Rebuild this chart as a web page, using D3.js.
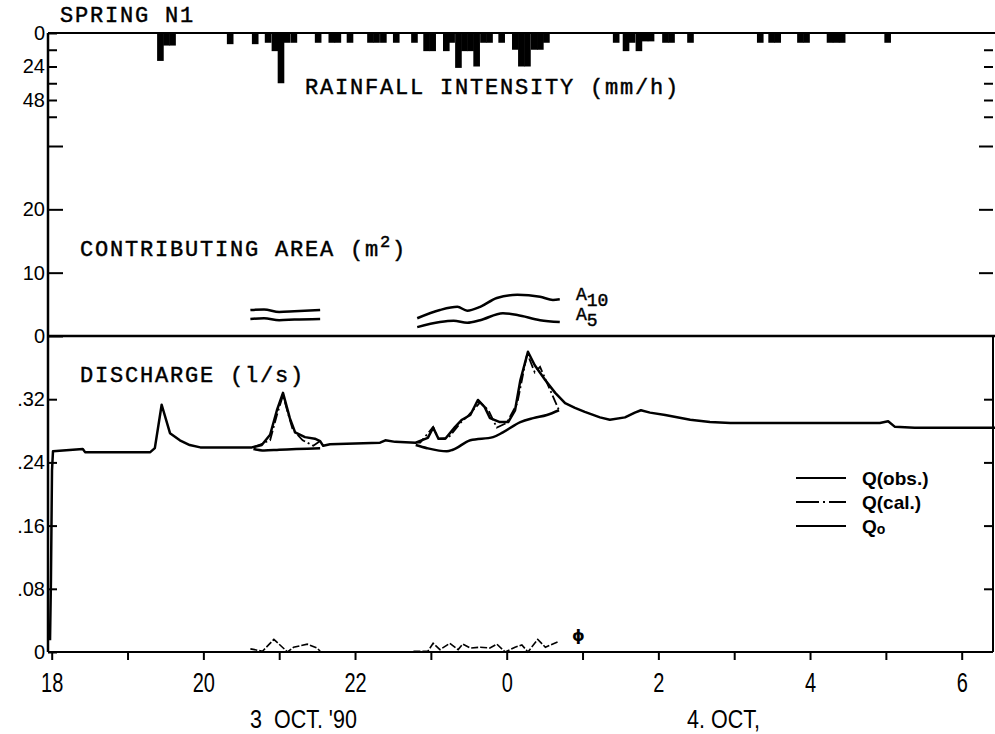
<!DOCTYPE html>
<html>
<head>
<meta charset="utf-8">
<script src="https://cdn.jsdelivr.net/npm/d3@7"></script>
<style>
  body { margin: 0; background: #fff; }
  svg text { fill: #000; }
  .mono { font-family: "Liberation Mono", "Courier New", monospace; stroke: #000; stroke-width: 0.45; }
  .num { font-family: "Liberation Sans", Arial, sans-serif; }
  .axis path, .axis line { stroke: #000; stroke-width: 2; }
</style>
</head>
<body>
<svg id="svg" width="995" height="734"></svg>
<script>
"use strict";

// hour axis (18 = 18h of 3 Oct, 24 = 0h of 4 Oct)
const hourTicks = [18, 19, 20, 21, 22, 23, 24, 25, 26, 27, 28, 29, 30];
const hourLabels = ["18", "", "20", "", "22", "", "0", "", "2", "", "4", "", "6"];
const rainTicks = [0, 12, 24, 36, 48, 60];
const rainLabels = ["0", "", "24", "", "48", ""];
const areaTicks = [0, 10, 20, 30];
const areaLabels = ["0", "10", "20", ""];
const qTicks = [0, 0.08, 0.16, 0.24, 0.32];
const qLabels = ["0", ".08", ".16", ".24", ".32"];

// rainfall, 5-minute bins: start hour, intensity mm/h
const rainHour = [19.39, 19.47, 19.55, 20.31, 20.64, 20.81, 20.90, 20.98, 21.06, 21.15,
  21.47, 21.65, 21.73, 21.89, 22.16, 22.24, 22.33, 22.50, 22.74, 22.90, 22.98,
  23.16, 23.23, 23.32, 23.40, 23.48, 23.56, 23.65, 23.73, 23.89, 24.07, 24.15,
  24.23, 24.32, 24.40, 24.48, 25.40, 25.53, 25.61, 25.70, 25.78, 25.86, 26.05,
  26.13, 26.38, 27.30, 27.45, 27.53, 27.83, 27.91, 28.22, 28.30, 28.38, 28.98];
const rainMm = [20, 9, 9, 8, 8, 7, 13, 36, 7, 7,
  7, 7, 7, 7, 7, 7, 7, 7, 7, 13, 13,
  13, 7, 25, 13, 13, 24, 7, 7, 7, 12, 24,
  24, 12, 12, 7, 7, 13, 7, 13, 6, 6, 7,
  7, 7, 7, 7, 7, 7, 7, 7, 7, 7, 7];

// contributing area (m2)
const a10Event1 = [[20.62, 4.1], [20.8, 4.2], [21.0, 3.8], [21.2, 3.9], [21.54, 4.1]];
const a5Event1 = [[20.62, 2.7], [20.8, 2.8], [21.0, 2.5], [21.2, 2.6], [21.54, 2.7]];
const a10Event2 = [[22.82, 2.8], [23.12, 4.1], [23.35, 4.6], [23.48, 4.0], [23.65, 4.6],
  [23.87, 6.0], [24.14, 6.5], [24.44, 6.2], [24.61, 5.7], [24.70, 5.8]];
const a5Event2 = [[22.82, 1.4], [23.12, 2.2], [23.30, 2.4], [23.48, 2.1], [23.65, 2.5],
  [23.95, 3.6], [24.14, 3.3], [24.44, 2.5], [24.70, 2.2]];

// discharge (l/s)
const qObs = [[17.978, 0.015], [17.99, 0.091], [18.004, 0.23], [18.017, 0.254], [18.41, 0.257],
  [18.44, 0.253], [19.30, 0.253], [19.36, 0.258], [19.45, 0.313], [19.56, 0.277],
  [19.69, 0.268], [19.82, 0.262], [19.96, 0.259], [20.64, 0.259], [20.77, 0.262],
  [20.88, 0.275], [20.97, 0.306], [21.05, 0.328], [21.14, 0.296], [21.21, 0.278],
  [21.34, 0.272], [21.47, 0.270], [21.54, 0.267], [21.58, 0.261], [21.67, 0.263],
  [22.33, 0.265], [22.40, 0.268], [22.53, 0.266], [22.80, 0.265], [22.96, 0.271],
  [23.03, 0.284], [23.10, 0.270], [23.19, 0.270], [23.32, 0.285], [23.41, 0.294],
  [23.52, 0.300], [23.62, 0.319], [23.71, 0.310], [23.78, 0.296], [23.91, 0.291],
  [24.02, 0.291], [24.11, 0.306], [24.18, 0.344], [24.28, 0.380], [24.37, 0.363],
  [24.51, 0.344], [24.64, 0.328], [24.77, 0.315], [24.90, 0.309], [25.03, 0.304],
  [25.23, 0.297], [25.36, 0.294], [25.56, 0.297], [25.69, 0.303], [25.77, 0.306],
  [25.89, 0.303], [26.09, 0.300], [26.42, 0.294], [26.68, 0.291], [26.95, 0.290],
  [28.92, 0.290], [29.03, 0.292], [29.12, 0.285], [29.38, 0.284], [30.45, 0.284]];
const qCalEvent1 = [[20.66, 0.259], [20.88, 0.268], [20.97, 0.300], [21.05, 0.325], [21.14, 0.294],
  [21.18, 0.281], [21.31, 0.268], [21.45, 0.261], [21.54, 0.267]];
const q0Event1 = [[20.66, 0.257], [20.80, 0.255], [21.00, 0.256], [21.54, 0.258]];
const qCalEvent2 = [[22.80, 0.265], [22.86, 0.265], [23.03, 0.285], [23.10, 0.270], [23.23, 0.271],
  [23.39, 0.290], [23.49, 0.299], [23.65, 0.316], [23.76, 0.306], [23.87, 0.284],
  [24.00, 0.290], [24.14, 0.315], [24.27, 0.378], [24.37, 0.354], [24.44, 0.361],
  [24.53, 0.341], [24.69, 0.306]];
const q0Event2 = [[22.80, 0.262], [22.95, 0.258], [23.21, 0.254], [23.29, 0.256], [23.52, 0.268],
  [23.82, 0.272], [23.95, 0.278], [24.18, 0.291], [24.35, 0.296], [24.53, 0.300], [24.69, 0.306]];
const phiEvent1 = [[20.62, 0.004], [20.78, 0.001], [20.93, 0.016], [21.11, 0.0], [21.19, 0.006],
  [21.37, 0.010], [21.50, 0.005], [21.54, 0.001]];
const phiEvent2 = [[22.77, 0.001], [22.96, 0.001], [23.03, 0.011], [23.12, 0.003], [23.25, 0.011],
  [23.36, 0.003], [23.42, 0.010], [23.52, 0.005], [23.65, 0.006], [23.78, 0.005],
  [23.87, 0.010], [23.98, 0.0], [24.11, 0.006], [24.20, 0.009], [24.28, 0.0],
  [24.41, 0.016], [24.51, 0.006], [24.68, 0.013]];

const svg = d3.select("#svg");
const left = 48, right = 993;

const x = d3.scaleLinear().domain([18, 30]).range([51.7, 961.7]);
const yRain = d3.scaleLinear().domain([0, 48]).range([33, 100]);
const yArea = d3.scaleLinear().domain([0, 30]).range([336, 146]);
const yQ = d3.scaleLinear().domain([0, 0.4]).range([652, 336]);

// squeeze a text horizontally (the original labels are set in a narrow face)
function condense(sel, factor) {
  sel.each(function () {
    const w = this.getComputedTextLength();
    if (w > 0) {
      d3.select(this).attr("textLength", w * factor).attr("lengthAdjust", "spacingAndGlyphs");
    }
  });
}

// frame lines
svg.append("line").attr("x1", left).attr("x2", 995).attr("y1", yRain(0)).attr("y2", yRain(0))
  .attr("stroke", "#000").attr("stroke-width", 2);
svg.append("line").attr("x1", left).attr("x2", 995).attr("y1", yArea(0)).attr("y2", yArea(0))
  .attr("stroke", "#000").attr("stroke-width", 2.5);
svg.append("line").attr("x1", left).attr("x2", left).attr("y1", yRain(0)).attr("y2", yQ(0))
  .attr("stroke", "#000").attr("stroke-width", 2.5);
svg.append("line").attr("x1", right).attr("x2", right).attr("y1", yQ(0.4)).attr("y2", yQ(0))
  .attr("stroke", "#000").attr("stroke-width", 2);

// bottom axis
const xAxis = svg.append("g").attr("class", "axis num")
  .attr("transform", `translate(0,${yQ(0)})`)
  .call(d3.axisBottom(x).tickValues(hourTicks).tickSize(8).tickPadding(13)
    .tickFormat((d, i) => hourLabels[i]));
xAxis.select(".domain").attr("d", `M${left},0H${right}`);
xAxis.selectAll("text").attr("font-size", 27).attr("font-family", null);
condense(xAxis.selectAll("text"), 0.74);

// left axes
function leftAxis(scale, ticks, labels, size) {
  const g = svg.append("g").attr("class", "axis num").attr("transform", `translate(${left},0)`)
    .call(d3.axisLeft(scale).tickValues(ticks).tickSize(-size).tickPadding(4)
      .tickFormat((d, i) => labels[i]));
  g.select(".domain").remove();
  g.selectAll("text").attr("font-size", 20).attr("font-family", null)
    .attr("x", -3);
  return g;
}
leftAxis(yRain, rainTicks, rainLabels, 9);
leftAxis(yArea, areaTicks, areaLabels, 15);
leftAxis(yQ, qTicks, qLabels, 9);

// right ticks
function rightTicks(scale, ticks, size) {
  const g = svg.append("g").attr("class", "axis").attr("transform", `translate(${right},0)`)
    .call(d3.axisRight(scale).tickValues(ticks).tickSize(-size).tickFormat(""));
  g.select(".domain").remove();
}
rightTicks(yRain, rainTicks.slice(1), 9);
rightTicks(yArea, areaTicks.slice(1), 14);
rightTicks(yQ, qTicks.slice(1), 9);

// rainfall bars
const binHours = 1 / 12;
svg.append("g").selectAll("rect").data(rainHour).enter().append("rect")
  .attr("x", d => x(d))
  .attr("width", d => x(d + binHours) - x(d) + 0.3)
  .attr("y", yRain(0))
  .attr("height", (d, i) => yRain(rainMm[i]) - yRain(0))
  .attr("fill", "#000");

const lineFor = scale => d3.line().x(d => x(d[0])).y(d => scale(d[1])).curve(d3.curveMonotoneX);

// contributing area
[a10Event1, a5Event1, a10Event2, a5Event2].forEach(s => {
  svg.append("path").datum(s).attr("d", lineFor(yArea))
    .attr("fill", "none").attr("stroke", "#000").attr("stroke-width", 2.5);
});

// discharge lines
svg.append("path").datum(qObs).attr("d", d3.line().x(d => x(d[0])).y(d => yQ(d[1])))
  .attr("fill", "none").attr("stroke", "#000").attr("stroke-width", 2.5)
  .attr("stroke-linejoin", "round");
[q0Event1, q0Event2].forEach(s => {
  svg.append("path").datum(s).attr("d", lineFor(yQ))
    .attr("fill", "none").attr("stroke", "#000").attr("stroke-width", 2.5);
});
[qCalEvent1, qCalEvent2].forEach(s => {
  svg.append("path").datum(s).attr("d", d3.line().x(d => x(d[0])).y(d => yQ(d[1])))
    .attr("fill", "none").attr("stroke", "#000").attr("stroke-width", 1.8)
    .attr("stroke-dasharray", "10,3,2,3");
});
[phiEvent1, phiEvent2].forEach(s => {
  svg.append("path").datum(s).attr("d", d3.line().x(d => x(d[0])).y(d => yQ(d[1])))
    .attr("fill", "none").attr("stroke", "#000").attr("stroke-width", 1.6)
    .attr("stroke-dasharray", "7,2");
});

// texts
svg.append("text").attr("class", "mono").attr("x", 60).attr("y", 22)
  .attr("font-size", 22).attr("letter-spacing", 1.8).text("SPRING N1");
svg.append("text").attr("class", "mono").attr("x", 305).attr("y", 94)
  .attr("font-size", 22).attr("letter-spacing", 1.8).text("RAINFALL INTENSITY (mm/h)");
const ca = svg.append("text").attr("class", "mono").attr("x", 80).attr("y", 256)
  .attr("font-size", 22).attr("letter-spacing", 1.8);
ca.append("tspan").text("CONTRIBUTING AREA (m");
ca.append("tspan").attr("dy", -9).attr("font-size", 17).text("2");
ca.append("tspan").attr("dy", 9).text(")");
svg.append("text").attr("class", "mono").attr("x", 80).attr("y", 382)
  .attr("font-size", 22).attr("letter-spacing", 1.8).text("DISCHARGE (l/s)");

const a10 = svg.append("text").attr("class", "mono").attr("x", 576).attr("y", 300).attr("font-size", 18);
a10.append("tspan").text("A");
a10.append("tspan").attr("dy", 6).attr("font-size", 18).text("10");
const a5 = svg.append("text").attr("class", "mono").attr("x", 576).attr("y", 320).attr("font-size", 18);
a5.append("tspan").text("A");
a5.append("tspan").attr("dy", 6).attr("font-size", 18).text("5");

svg.append("text").attr("x", 572).attr("y", 641).attr("font-size", 16)
  .attr("font-family", "DejaVu Sans").attr("font-weight", "bold").text("\u03d5");

// date labels
const d1 = svg.append("text").attr("class", "num").attr("x", 250).attr("y", 728).attr("font-size", 25)
  .attr("xml:space", "preserve").text("3  OCT. '90");
condense(d1, 0.86);
const d2 = svg.append("text").attr("class", "num").attr("x", 687).attr("y", 728).attr("font-size", 25)
  .text("4. OCT,");
condense(d2, 0.86);

// legend
const legendNames = ["Q(obs.)", "Q(cal.)", "Q"];
const legendDash = [null, "23,4,2,4,30", null];
const legend = svg.append("g").attr("transform", "translate(796,478)");
legendNames.forEach((name, i) => {
  const row = legend.append("g").attr("transform", `translate(0,${i * 24})`);
  row.append("line").attr("x1", 0).attr("x2", 50).attr("stroke", "#000").attr("stroke-width", 2)
    .attr("stroke-dasharray", legendDash[i]);
  const t = row.append("text").attr("class", "num").attr("x", 66).attr("y", 7)
    .attr("font-size", 19).attr("font-weight", "bold").text(name);
  if (i === 2) t.append("tspan").attr("font-size", 14).attr("dy", 1).text("o");
});
</script>
</body>
</html>
